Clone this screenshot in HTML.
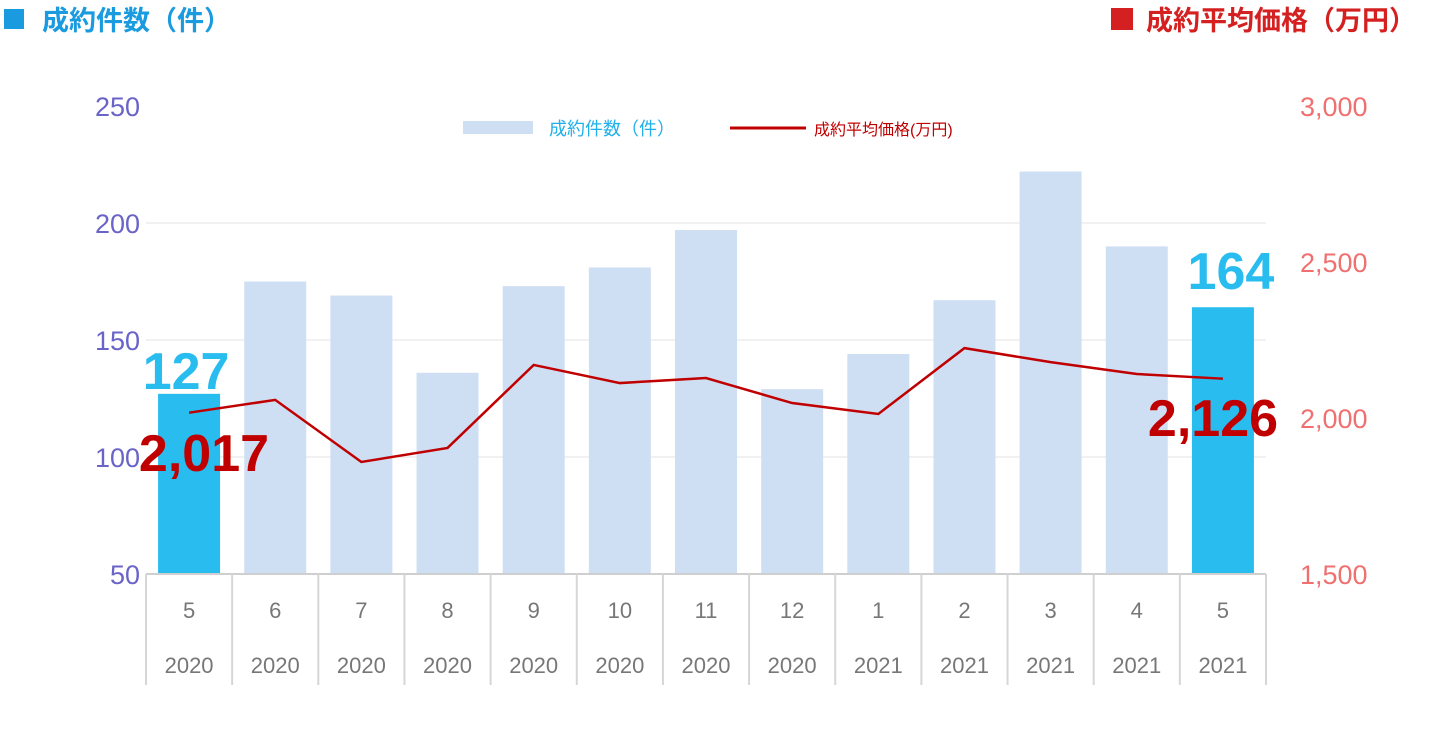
<!DOCTYPE html>
<html><head><meta charset="utf-8"><style>
html,body{margin:0;padding:0;background:#fff;width:1440px;height:738px;overflow:hidden}
svg text{font-family:"Liberation Sans","Noto Sans CJK JP",sans-serif}
</style></head><body>
<svg id="chart" width="1440" height="738" xmlns="http://www.w3.org/2000/svg">
<g>
<rect x="4" y="9" width="20" height="20" fill="#1a9be0"/>
<text x="42" y="30" font-size="27" font-weight="bold" fill="#1a9be0">成約件数（件）</text>
</g>
<g>
<rect x="1111" y="8" width="22" height="22" fill="#d42020"/>
<text x="1146" y="30" font-size="27" font-weight="bold" fill="#d42020">成約平均価格（万円）</text>
</g>
<g>
<rect x="463" y="121" width="70" height="13" fill="#cfdff3"/>
<text x="549" y="135" font-size="18" fill="#20b0ea">成約件数（件）</text>
<line x1="730" y1="128" x2="806" y2="128" stroke="#c00000" stroke-width="3"/>
<text x="814" y="135" font-size="16" fill="#c00000">成約平均価格(万円)</text>
</g>
<g id="grid"></g><g id="bars"></g><g id="line"></g><g id="axes"></g><g id="labels"></g>
</svg>
<script>
const months=["5","6","7","8","9","10","11","12","1","2","3","4","5"];
const years=["2020","2020","2020","2020","2020","2020","2020","2020","2021","2021","2021","2021","2021"];
const counts=[127,175,169,136,173,181,197,129,144,167,222,190,164];
const prices=[2017,2058,1859,1904,2170,2112,2128,2048,2013,2224,2179,2141,2126];
const leftTicks=[50,100,150,200,250];
const rightTicks=[1500,2000,2500,3000];
const NS="http://www.w3.org/2000/svg";
const X0=146,X1=1266,Y0=574,Y1=106;
const bw=(X1-X0)/months.length;
const xc=i=>X0+bw*(i+0.5);
const yL=v=>Y0-(v-50)/200*(Y0-Y1);
const yR=v=>Y0-(v-1500)/1500*(Y0-Y1);
function mk(tag,attrs,parent,txt){const e=document.createElementNS(NS,tag);for(const k in attrs)e.setAttribute(k,attrs[k]);if(txt!==undefined)e.textContent=txt;document.getElementById(parent).appendChild(e);return e;}
leftTicks.forEach(t=>{
 if(t>50&&t<250){const g=mk('line',{x1:X0,x2:X1,y1:yL(t),y2:yL(t),stroke:'#e3e3e3','stroke-width':1},'grid');
 
 }
 const l=mk('text',{x:140,y:yL(t)+10,'font-size':27,fill:'#6a63c8','text-anchor':'end'},'axes',String(t));
 
 
});
rightTicks.forEach(t=>{
 const l=mk('text',{x:1300,y:yR(t)+10,'font-size':27,fill:'#f07070'},'axes',t.toLocaleString('en-US'));
 
 
});
counts.forEach((v,i)=>{
 const hi=(i===0||i===counts.length-1);
 const b=mk('rect',{x:xc(i)-31,y:yL(v),width:62,height:Y0-yL(v),fill:hi?'#28bcef':'#cfdff3'},'bars');
 
 
});
const pts=prices.map((v,i)=>xc(i)+','+yR(v)).join(' ');
const pl=mk('polyline',{points:pts,fill:'none',stroke:'#c00000','stroke-width':2.5},'line');


// axis + table
const ax=mk('line',{x1:X0,x2:X1,y1:Y0,y2:Y0,stroke:'#cfcfcf','stroke-width':2},'axes');


for(let i=0;i<=months.length;i++){
 const x=X0+bw*i;
 const v=mk('line',{x1:x,x2:x,y1:Y0,y2:685,stroke:'#d6d6d6','stroke-width':2},'axes');
 
 
}
months.forEach((m,i)=>{
 const a=mk('text',{x:xc(i),y:618,'font-size':22,fill:'#777','text-anchor':'middle'},'axes',m);
 
 
 const b=mk('text',{x:xc(i),y:673,'font-size':22,fill:'#777','text-anchor':'middle'},'axes',years[i]);
 
 
});
const last=counts.length-1;
const l1=mk('text',{x:xc(0)-3,y:yL(counts[0])-5,'font-size':52,'font-weight':'bold',fill:'#28bcef','text-anchor':'middle'},'labels',String(counts[0]));


const l2=mk('text',{x:xc(last)+8,y:yL(counts[last])-18,'font-size':52,'font-weight':'bold',fill:'#28bcef','text-anchor':'middle'},'labels',String(counts[last]));


const l3=mk('text',{x:204,y:471,'font-size':52,'font-weight':'bold',fill:'#c00000','text-anchor':'middle'},'labels',prices[0].toLocaleString('en-US'));


const l4=mk('text',{x:1213,y:436,'font-size':52,'font-weight':'bold',fill:'#c00000','text-anchor':'middle'},'labels',prices[last].toLocaleString('en-US'));


</script>
</body></html>
